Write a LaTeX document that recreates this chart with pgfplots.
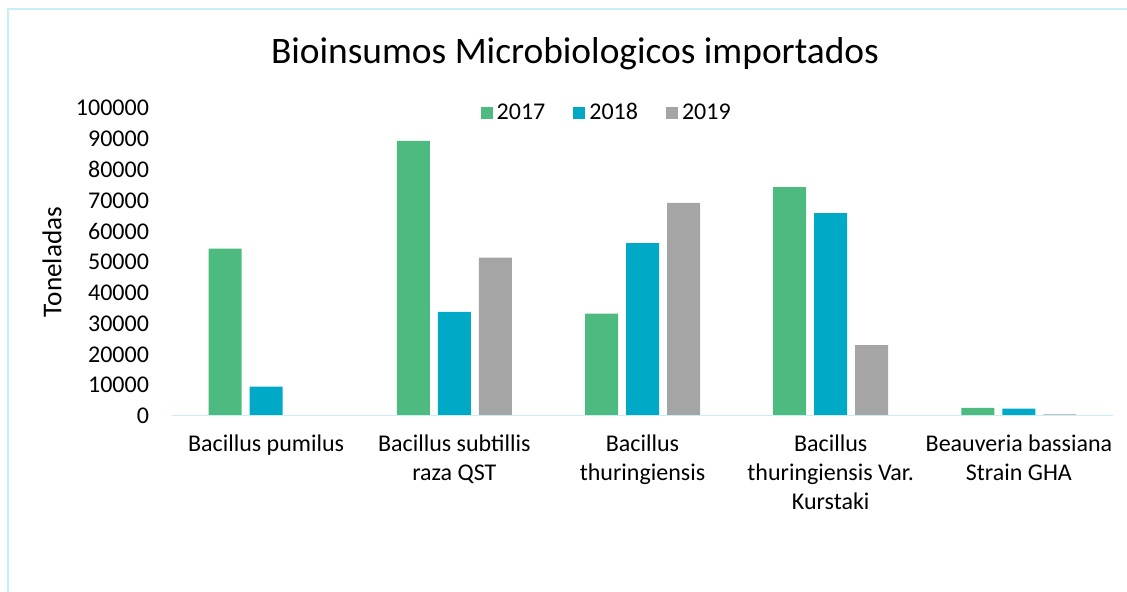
\documentclass[border=0pt]{standalone}
\usepackage{pgfplots}
\pgfplotsset{compat=1.18}
\usepackage{fontspec}
\setmainfont{Carlito}
\definecolor{c17}{RGB}{77,187,127}
\definecolor{c18}{RGB}{0,169,198}
\definecolor{c19}{RGB}{165,165,165}
\definecolor{marco}{RGB}{200,238,246}
\begin{document}
\begin{tikzpicture}
\useasboundingbox (0,0) rectangle (563.5pt,296pt);
\begin{scope}
\clip (0,0) rectangle (563.5pt,296pt);
\draw[marco, line width=1pt] (4pt,-20pt) rectangle (600pt,291.5pt);
\end{scope}
\node[font=\fontsize{18.7}{22}\selectfont] at (287.5pt,269pt) {Bioinsumos Microbiologicos importados};
\begin{axis}[
    at={(86pt,88pt)}, anchor=south west,
    scale only axis,
    width=470.5pt, height=154pt,
    ybar=4pt, bar width=16.5pt,
    xmin=-0.5, xmax=4.5,
    ymin=0, ymax=100000,
    xtick={0,1,2,3,4},
    xticklabels={Bacillus pumilus, Bacillus subtillis\\raza QST, Bacillus\\thuringiensis, Bacillus\\thuringiensis Var.\\Kurstaki, Beauveria bassiana\\Strain GHA},
    ytick={0,10000,...,100000},
    scaled y ticks=false,
    /pgf/number format/assume math mode=true,
    yticklabel style={/pgf/number format/fixed, /pgf/number format/1000 sep={}, xshift=-8pt},
    xticklabel style={align=center, yshift=-6pt},
    tick label style={font=\fontsize{12}{14.5}\selectfont},
    axis line style={draw=none},
    major tick length=0pt,
    ylabel={Toneladas},
    ylabel style={at={(axis description cs:-0.1275,0.5)}, anchor=center, font=\fontsize{13.6}{16}\selectfont},
    legend columns=-1,
    legend style={at={(axis description cs:0.463,0.984)}, anchor=center, draw=none, fill=none,
        font=\fontsize{12}{14.5}\selectfont,
        /tikz/every even column/.append style={column sep=12pt}},
    legend image code/.code={\fill[#1] (0pt,-3pt) rectangle (6pt,3pt);},
]
\addplot[fill=c17, draw=none] coordinates {(0,54300) (1,89300) (2,33200) (3,74300) (4,2600)};
\addlegendentry{2017}
\addplot[fill=c18, draw=none] coordinates {(0,9500) (1,33800) (2,56100) (3,65900) (4,2400)};
\addlegendentry{2018}
\addplot[fill=c19, draw=none] coordinates {(0,0) (1,51400) (2,69200) (3,23000) (4,500)};
\addlegendentry{2019}
\draw[marco, line width=1pt] (rel axis cs:0,0) -- (rel axis cs:1,0);
\end{axis}
\end{tikzpicture}
\end{document}
